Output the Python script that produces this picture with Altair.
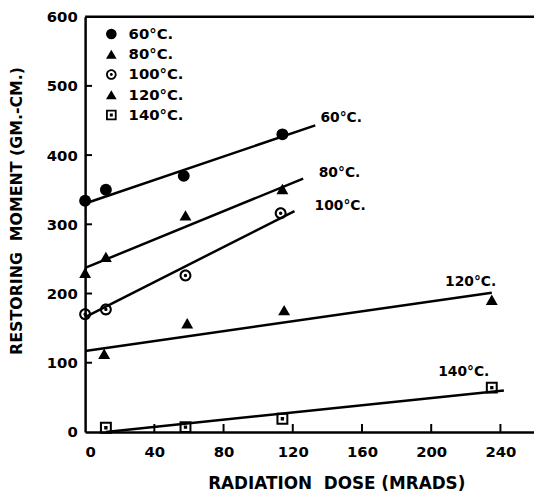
import altair as alt
import pandas as pd

# ---- data ----
series = ["60°C.", "80°C.", "100°C.", "120°C.", "140°C."]

dose_60 = [0, 12, 57, 114]
moment_60 = [334, 350, 370, 430]
dose_80 = [0, 12, 58, 114]
moment_80 = [230, 253, 313, 351]
dose_100 = [0, 12, 58, 113]
moment_100 = [170, 177, 226, 316]
dose_120 = [11, 59, 115, 235]
moment_120 = [113, 157, 176, 191]
dose_140 = [12, 58, 114, 235]
moment_140 = [6, 7, 19, 64]

# fitted straight lines (start / end) per series
fit_dose_60 = [0, 133]
fit_moment_60 = [330, 443]
fit_dose_80 = [0, 126]
fit_moment_80 = [237, 366]
fit_dose_100 = [0, 121]
fit_moment_100 = [166, 319]
fit_dose_120 = [0, 235]
fit_moment_120 = [117, 201]
fit_dose_140 = [12, 242]
fit_moment_140 = [0, 60]

# line labels
label_text = ["60°C.", "80°C.", "100°C.", "120°C.", "140°C."]
label_dose = [136, 135, 132.6, 208, 204]
label_moment = [453, 374, 326, 216, 87]

x_ticks = [0, 40, 80, 120, 160, 200, 240]
y_ticks = [0, 100, 200, 300, 400, 500, 600]
x_inner_ticks = [40, 80, 120, 160, 200, 240]
y_inner_ticks = [100, 200, 300, 400, 500]

# ---- build tables ----
pts = []
fits = []
for s, dx, my, fx, fy in [
    (series[0], dose_60, moment_60, fit_dose_60, fit_moment_60),
    (series[1], dose_80, moment_80, fit_dose_80, fit_moment_80),
    (series[2], dose_100, moment_100, fit_dose_100, fit_moment_100),
    (series[3], dose_120, moment_120, fit_dose_120, fit_moment_120),
    (series[4], dose_140, moment_140, fit_dose_140, fit_moment_140),
]:
    for a, b in zip(dx, my):
        pts.append({"series": s, "dose": a, "moment": b})
    for a, b in zip(fx, fy):
        fits.append({"series": s, "dose": a, "moment": b})
pts = pd.DataFrame(pts)
fits = pd.DataFrame(fits)
labels = pd.DataFrame({"text": label_text, "dose": label_dose, "moment": label_moment})
xt = pd.DataFrame({"dose": x_inner_ticks})
yt = pd.DataFrame({"moment": y_inner_ticks})

FONT = "DejaVu Sans"

ring_dot = ("M1,0 A1,1 0 1,1 -1,0 A1,1 0 1,1 1,0 Z "
            "M0.66,0 A0.66,0.66 0 1,0 -0.66,0 A0.66,0.66 0 1,0 0.66,0 Z "
            "M0.28,0 A0.28,0.28 0 1,1 -0.28,0 A0.28,0.28 0 1,1 0.28,0 Z")
square_dot = ("M-1,-1 H1 V1 H-1 Z "
              "M-0.66,-0.66 V0.66 H0.66 V-0.66 Z "
              "M-0.28,-0.28 H0.28 V0.28 H-0.28 Z")

x_scale = alt.Scale(domain=[0, 259.4], nice=False, zero=False)
y_scale = alt.Scale(domain=[0, 600], nice=False)

x_axis = alt.Axis(values=x_ticks, grid=False, tickSize=0, labelPadding=13,
                  labelFont=FONT, labelFontWeight="bold", labelFontSize=15,
                  labelColor="black", domainColor="black", domainWidth=2.5,
                  title="RADIATION\u00a0\u00a0DOSE (MRADS)", titleFont=FONT,
                  titleFontWeight="bold", titleFontSize=17, titleColor="black",
                  titleX=254, titleY=52, titleAlign="center", titleBaseline="middle")
y_axis = alt.Axis(values=y_ticks, grid=False, tickSize=0, labelPadding=8,
                  labelFont=FONT, labelFontWeight="bold", labelFontSize=15,
                  labelColor="black", domainColor="black", domainWidth=2.5,
                  title="RESTORING\u00a0\u00a0MOMENT (GM.-CM.)", titleFont=FONT,
                  titleFontWeight="bold", titleFontSize=16, titleColor="black",
                  titleX=-69, titleY=196, titleAngle=-90, titleAlign="center",
                  titleBaseline="middle")

X = alt.X("dose:Q", scale=x_scale, axis=x_axis)
Y = alt.Y("moment:Q", scale=y_scale, axis=y_axis)

top_rule = alt.Chart(pd.DataFrame({"moment": [600]})).mark_rule(
    color="black", strokeWidth=2.5).encode(y=Y)

y_tick_layer = alt.Chart(yt).mark_rule(color="black", strokeWidth=2).encode(
    y=Y, x=alt.value(0), x2=alt.value(7))
x_tick_layer = alt.Chart(xt).mark_rule(color="black", strokeWidth=2).encode(
    x=X, y=alt.value(420), y2=alt.value(412))

fit_layer = alt.Chart(fits).mark_line(color="black", strokeWidth=2.5).encode(
    x=X, y=Y, detail="series:N")

point_layer = alt.Chart(pts).mark_point(filled=True, color="black", opacity=1,
                                        strokeWidth=0, size=145).encode(
    x=X, y=Y,
    shape=alt.Shape("series:N",
                    scale=alt.Scale(domain=series,
                                    range=["circle", "triangle-up", ring_dot,
                                           "triangle-up", square_dot]),
                    legend=alt.Legend(orient="none", legendX=19, legendY=10,
                                      title=None, padding=0, rowPadding=4.5,
                                      labelOffset=10, symbolSize=115,
                                      symbolFillColor="black", symbolStrokeWidth=0,
                                      symbolOpacity=1,
                                      labelFont=FONT, labelFontWeight="bold",
                                      labelFontSize=15, labelColor="black")),
)

label_layer = alt.Chart(labels).mark_text(
    align="left", baseline="middle", font=FONT, fontWeight="bold",
    fontSize=14, color="black").encode(x=X, y=Y, text="text:N")

chart = alt.layer(
    top_rule, y_tick_layer, x_tick_layer, fit_layer, point_layer, label_layer
).properties(
    width=454, height=420,
    autosize=alt.AutoSizeParams(type="none"),
    padding={"left": 78, "top": 6, "right": 0, "bottom": 60},
).configure_view(stroke=None).configure(background="white")

chart.save("out.html", embed_options={"renderer": "svg", "actions": False})
